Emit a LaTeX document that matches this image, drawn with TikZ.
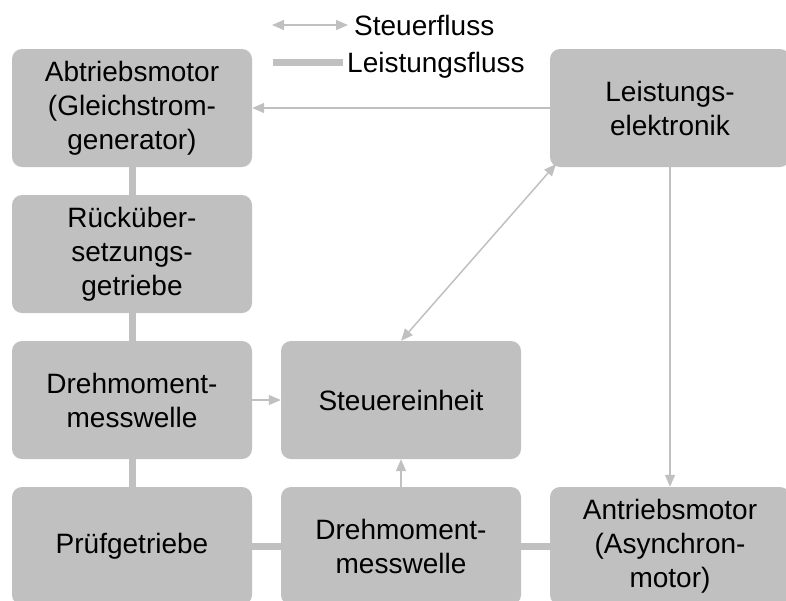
\documentclass[tikz,border=0pt]{standalone}
\usepackage{fontspec}
\setmainfont{Liberation Sans}
\usetikzlibrary{arrows.meta}
\definecolor{boxgray}{HTML}{C0C0C0}
\begin{document}
\begin{tikzpicture}[x=1pt,y=-1pt,
  box/.style={fill=boxgray, rounded corners=10pt, minimum width=240pt, minimum height=118pt, align=center, inner sep=0pt, font=\fontsize{28}{34}\selectfont},
  ctrl/.style={draw=boxgray, line width=1.5pt, -{Triangle[length=12pt,width=10pt]}},
  ctrlboth/.style={draw=boxgray, line width=1.5pt, {Triangle[length=12pt,width=10pt]}-{Triangle[length=12pt,width=10pt]}},
  power/.style={draw=boxgray, line width=7pt},
  lbl/.style={font=\fontsize{28}{34}\selectfont, inner sep=0pt}]
\useasboundingbox (0,0) rectangle (786,600);
\clip (0,0) rectangle (786,600);
% boxes
\node[box] (ab)  at (132,108) {Abtriebsmotor\\(Gleichstrom-\\generator)};
\node[box] (rue) at (132,254) {Rücküber-\\setzungs-\\getriebe};
\node[box] (dm1) at (132,400) {Drehmoment-\\messwelle};
\node[box] (pg)  at (132,546) {Prüfgetriebe};
\node[box] (st)  at (401,400) {Steuereinheit};
\node[box] (dm2) at (401,546) {Drehmoment-\\messwelle};
\node[box] (le)  at (670,108) {Leistungs-\\elektronik};
\node[box] (an)  at (670,546) {Antriebsmotor\\(Asynchron-\\motor)};
% power flow
\draw[power] (ab.south) -- (rue.north);
\draw[power] (rue.south) -- (dm1.north);
\draw[power] (dm1.south) -- (pg.north);
\draw[power] (pg.east) -- (dm2.west);
\draw[power] (dm2.east) -- (an.west);
% control flow
\coordinate (lecorner) at (556,164);
\draw[ctrl] (le.west) -- (ab.east);
\draw[ctrl] (le.south) -- (an.north);
\draw[ctrlboth] (st.north) -- (lecorner);
\draw[ctrl] (dm1.east) -- (st.west);
\draw[ctrl] (dm2.north) -- (st.south);
% legend
\coordinate (l1a) at (272,25);
\coordinate (l1b) at (348,25);
\coordinate (l2a) at (273,62);
\coordinate (l2b) at (343,62);
\draw[ctrlboth] (l1a) -- (l1b);
\draw[power] (l2a) -- (l2b);
\node[lbl, anchor=base west] (lg1) at (354,35) {Steuerfluss};
\node[lbl, anchor=base west] (lg2) at (347,72) {Leistungsfluss};
\end{tikzpicture}
\end{document}
